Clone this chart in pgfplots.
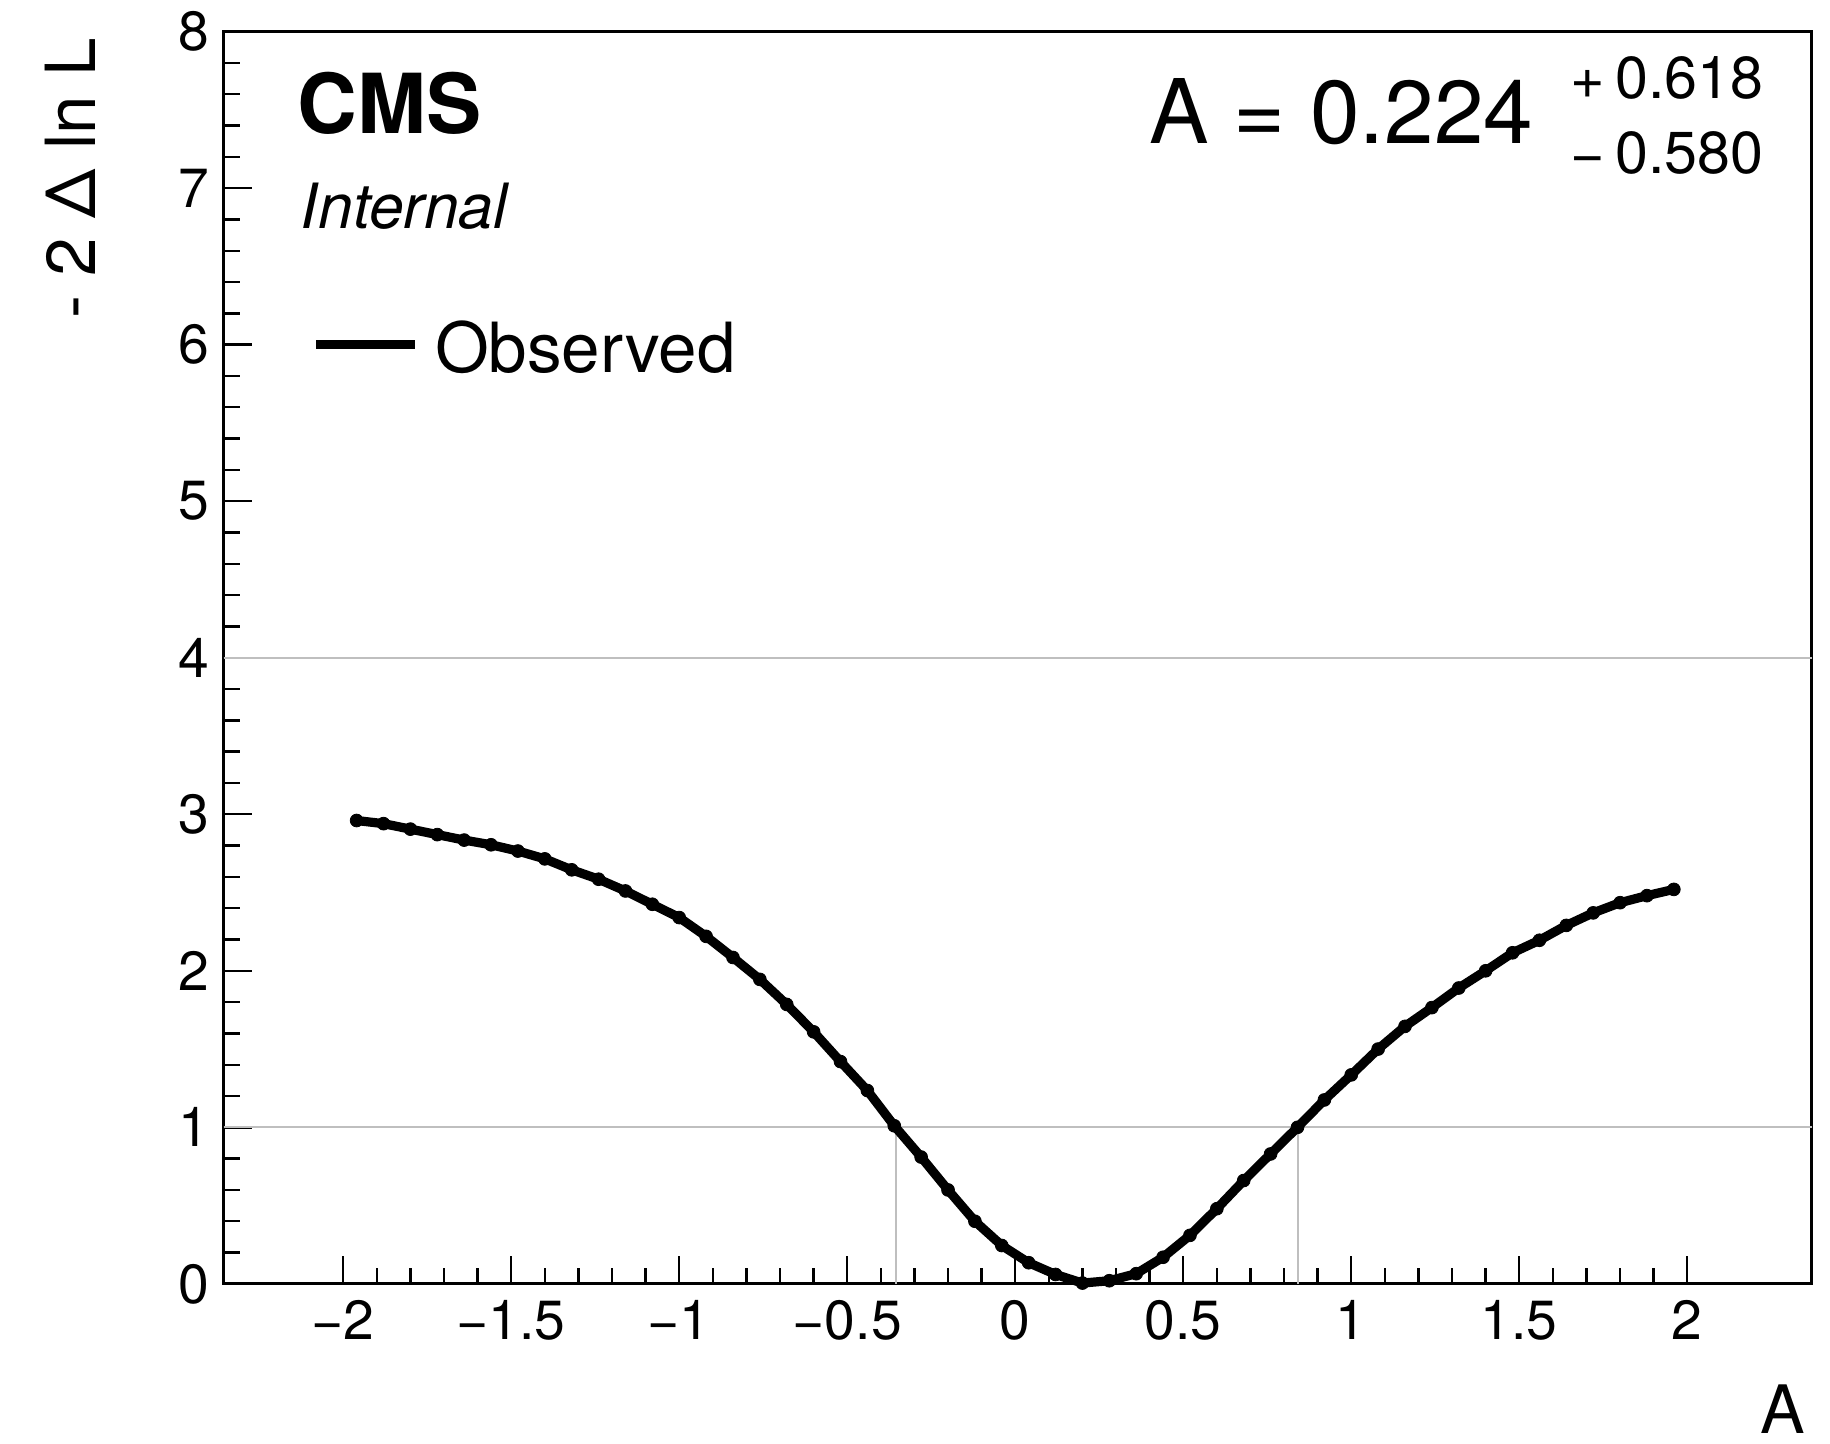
\documentclass[border=0pt]{standalone}
\usepackage{pgfplots}
\pgfplotsset{compat=1.18}
\usepackage{fontspec}
\setmainfont{TeX Gyre Heros}
\pgfplotstableread{
x y
-1.96 2.960
-1.88 2.940
-1.80 2.905
-1.72 2.870
-1.64 2.835
-1.56 2.805
-1.48 2.765
-1.40 2.715
-1.32 2.645
-1.24 2.585
-1.16 2.510
-1.08 2.425
-1.00 2.340
-0.92 2.220
-0.84 2.085
-0.76 1.945
-0.68 1.785
-0.60 1.610
-0.52 1.420
-0.44 1.235
-0.36 1.010
-0.28 0.810
-0.20 0.600
-0.12 0.400
-0.04 0.245
0.04 0.135
0.12 0.060
0.20 0.005
0.28 0.020
0.36 0.065
0.44 0.170
0.52 0.310
0.60 0.480
0.68 0.660
0.76 0.830
0.84 1.000
0.92 1.175
1.00 1.335
1.08 1.500
1.16 1.645
1.24 1.765
1.32 1.890
1.40 2.000
1.48 2.115
1.56 2.195
1.64 2.290
1.72 2.370
1.80 2.435
1.88 2.480
1.96 2.520
}\observed
\begin{document}
\begin{tikzpicture}
\path[use as bounding box] (-55.9pt,-40pt) rectangle (401.65pt,321pt);
\begin{axis}[
  at={(0,0)}, anchor=south west,
  width=397.05pt, height=313.1pt, scale only axis,
  xmin=-2.356, xmax=2.37, ymin=0, ymax=8,
  xtick={-2,-1.5,-1,-0.5,0,0.5,1,1.5,2},
  xticklabels={−2,−1.5,−1,−0.5,0,0.5,1,1.5,2},
  ytick={0,1,2,3,4,5,6,7,8},
  yticklabels={0,1,2,3,4,5,6,7,8},
  minor x tick num=4, minor y tick num=4,
  tick pos=left, tick align=inside,
  major tick length=7pt, minor tick length=4pt,
  axis line style={line width=0.7pt},
  tick style={line width=0.6pt, black},
  tick label style={font=\fontsize{13.8}{16}\selectfont, inner sep=0pt},
  xticklabel style={yshift=-4pt},
  yticklabel style={xshift=-3.3pt},
  clip=false,
]
\addplot[forget plot, black!25, line width=0.5pt] coordinates {(-2.356,1) (2.37,1)};
\addplot[forget plot, black!25, line width=0.5pt] coordinates {(-2.356,4) (2.37,4)};
\addplot[forget plot, black!25, line width=0.5pt] coordinates {(-0.356,0) (-0.356,1)};
\addplot[forget plot, black!25, line width=0.5pt] coordinates {(0.842,0) (0.842,1)};
\addplot[black, line width=2.3pt, line join=round, mark=*, mark size=1.6pt, mark options={line width=0.2pt}] table[x=x,y=y] {\observed};
\draw[line width=2.2pt] (axis cs:-2.080,6) -- (axis cs:-1.785,6);
\node[anchor=base west, inner sep=0pt, font=\fontsize{17.3}{20}\selectfont] at (axis cs:-1.729,5.82) {Observed};
\node[anchor=base west, inner sep=0pt, font=\fontsize{20.7}{24}\selectfont\bfseries] at (axis cs:-2.138,7.35) {CMS};
\node[anchor=base west, inner sep=0pt, font=\fontsize{15.6}{18}\selectfont\itshape] at (axis cs:-2.128,6.74) {Internal};
\node[anchor=base west, inner sep=0pt, font=\fontsize{22.3}{26}\selectfont] at (axis cs:0.396,7.287) {A = 0.224};
\node[anchor=base west, inner sep=0pt, font=\fontsize{14.8}{17}\selectfont] at (axis cs:1.651,7.575) {+\,0.618};
\node[anchor=base west, inner sep=0pt, font=\fontsize{14.8}{17}\selectfont] at (axis cs:1.651,7.095) {−\,0.580};
\node[rotate=90, anchor=base east, inner sep=0pt, font=\fontsize{17.3}{20}\selectfont] at ([xshift=-32pt, yshift=-1.5pt]rel axis cs:0,1) {- 2 Δ ln L};
\node[anchor=base east, inner sep=0pt, font=\fontsize{16.7}{20}\selectfont] at ([xshift=-1.4pt, yshift=-37.4pt]rel axis cs:1,0) {A};
\end{axis}
\end{tikzpicture}
\end{document}
